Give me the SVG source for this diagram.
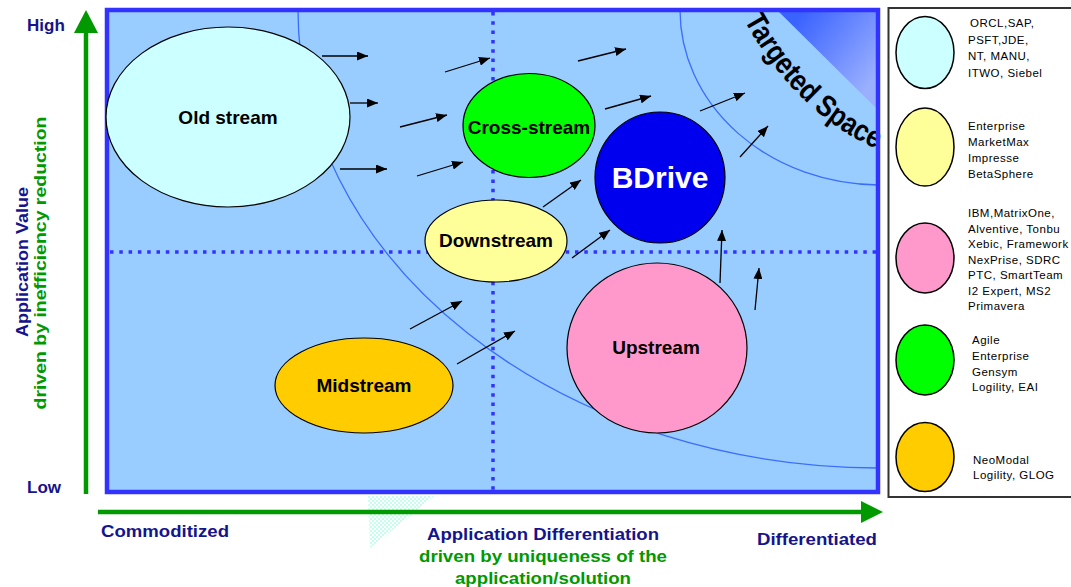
<svg xmlns="http://www.w3.org/2000/svg" width="1071" height="587" viewBox="0 0 1071 587">
<defs>
<style>
.lbl{font-family:"Liberation Sans",Arial,sans-serif;font-weight:bold;font-size:19px;fill:#000;text-anchor:middle}
.ax{font-family:"Liberation Sans",Arial,sans-serif;font-weight:bold;font-size:17px;fill:#14148c}
.axg{font-family:"Liberation Sans",Arial,sans-serif;font-weight:bold;font-size:17px;fill:#009900}
.leg{font-family:"Liberation Sans",Arial,sans-serif;font-size:11.5px;fill:#000;letter-spacing:0.5px}
.node{stroke:#000;stroke-width:1.2}
.arc{fill:none;stroke:#3a6cff;stroke-width:1.3}
.dot{fill:none;stroke:#3333ff;stroke-width:3.5;stroke-dasharray:3.5 5.8}
.arr{fill:none;stroke:#000;stroke-width:1.3;marker-end:url(#ah)}
.lege{stroke:#000;stroke-width:1.5}
</style>
<marker id="ah" markerUnits="userSpaceOnUse" markerWidth="11" markerHeight="9" refX="11" refY="4.5" orient="auto"><path d="M0,0 L11,4.5 L0,9 z" fill="#000"/></marker>
<linearGradient id="tg" gradientUnits="userSpaceOnUse" x1="800" y1="15" x2="878" y2="75"><stop offset="0" stop-color="#3a62ff"/><stop offset="1" stop-color="#9ab0ff"/></linearGradient>
<pattern id="hatch" width="4" height="4" patternUnits="userSpaceOnUse"><rect width="4" height="4" fill="#ffffff"/><rect width="2" height="2" fill="#c4ffec"/><rect x="2" y="2" width="2" height="2" fill="#c4ffec"/></pattern>
<path id="tsp" d="M744,20 Q797,115 879,150"/>
</defs>

<rect width="1071" height="587" fill="#ffffff"/>

<!-- hatched triangle below chart -->
<polygon points="368,496 434,496 370,548" fill="url(#hatch)"/>

<!-- main chart frame -->
<g id="chart">
<rect x="107" y="10" width="771" height="482" fill="#99ccff"/>
<polygon points="777,10 878,10 878,110" fill="url(#tg)"/>
<path class="arc" d="M298,10 A582,458 0 0 0 878,468"/>
<path class="arc" d="M680,10 A200,175 0 0 0 878,185"/>
<line class="dot" x1="493" y1="12" x2="493" y2="492"/>
<line class="dot" x1="110" y1="252" x2="876" y2="252"/>
<text font-family="Liberation Sans, Arial, sans-serif" font-size="30" font-weight="bold" fill="#000"><textPath href="#tsp" startOffset="0" textLength="188" lengthAdjust="spacingAndGlyphs">Targeted Space</textPath></text>
<rect x="107" y="10" width="771" height="482" fill="none" stroke="#3333ff" stroke-width="4.5"/>
</g>

<!-- connectors -->
<g id="connectors">
<line class="arr" x1="322" y1="56" x2="368" y2="56"/>
<line class="arr" x1="350" y1="103" x2="378" y2="103"/>
<line class="arr" x1="340" y1="169" x2="387" y2="169"/>
<line class="arr" x1="445" y1="72" x2="490" y2="58"/>
<line class="arr" x1="400" y1="127" x2="447" y2="115"/>
<line class="arr" x1="417" y1="176" x2="463" y2="162"/>
<line class="arr" x1="578" y1="61" x2="626" y2="49"/>
<line class="arr" x1="605" y1="109" x2="651" y2="96"/>
<line class="arr" x1="700" y1="111" x2="745" y2="93"/>
<line class="arr" x1="740" y1="157" x2="768" y2="126"/>
<line class="arr" x1="543" y1="207" x2="581" y2="180"/>
<line class="arr" x1="572" y1="258" x2="610" y2="230"/>
<line class="arr" x1="720" y1="283" x2="722" y2="230"/>
<line class="arr" x1="755" y1="310" x2="759" y2="268"/>
<line class="arr" x1="410" y1="329" x2="462" y2="301"/>
<line class="arr" x1="457" y1="364" x2="515" y2="331"/>
</g>

<g id="node-oldstream">
<ellipse class="node" cx="228" cy="117" rx="122" ry="90" fill="#ccffff"/>
<text class="lbl" x="228" y="124">Old stream</text>
</g>
<g id="node-crossstream">
<ellipse class="node" cx="529" cy="125.5" rx="66" ry="52" fill="#00ff00"/>
<text class="lbl" x="529" y="134">Cross-stream</text>
</g>
<g id="node-bdrive">
<ellipse class="node" cx="660" cy="177.5" rx="65" ry="65.5" fill="#0000ee"/>
<text class="lbl" x="660" y="188" style="font-size:30px;fill:#fff">BDrive</text>
</g>
<g id="node-downstream">
<ellipse class="node" cx="496" cy="241" rx="71" ry="41" fill="#ffff99"/>
<text class="lbl" x="496" y="247">Downstream</text>
</g>
<g id="node-midstream">
<ellipse class="node" cx="364" cy="385.5" rx="89" ry="47.5" fill="#ffcc00"/>
<text class="lbl" x="364" y="392">Midstream</text>
</g>
<g id="node-upstream">
<ellipse class="node" cx="657" cy="348" rx="90" ry="85" fill="#ff99cc"/>
<text class="lbl" x="656" y="354">Upstream</text>
</g>

<!-- axes -->
<g id="axis-y">
<line x1="86" y1="494" x2="86" y2="28" stroke="#009900" stroke-width="4.5"/>
<polygon points="74,33 98,33 86,10" fill="#009900"/>
<text class="ax" x="27" y="31">High</text>
<text class="ax" x="27" y="493">Low</text>
<text class="ax" transform="translate(28,262) rotate(-90)" text-anchor="middle" textLength="150" lengthAdjust="spacingAndGlyphs">Application Value</text>
<text class="axg" transform="translate(46,263) rotate(-90)" text-anchor="middle" textLength="293" lengthAdjust="spacingAndGlyphs">driven by inefficiency reduction</text>
</g>
<g id="axis-x">
<line x1="98" y1="512" x2="865" y2="512" stroke="#009900" stroke-width="4.5"/>
<polygon points="861,501 861,523 883,512" fill="#009900"/>
<text class="ax" x="101" y="537" textLength="128" lengthAdjust="spacingAndGlyphs">Commoditized</text>
<text class="ax" x="543" y="540" text-anchor="middle" textLength="232" lengthAdjust="spacingAndGlyphs">Application Differentiation</text>
<text class="axg" x="543" y="562" text-anchor="middle" textLength="248" lengthAdjust="spacingAndGlyphs">driven by uniqueness of the</text>
<text class="axg" x="543" y="584" text-anchor="middle" textLength="176" lengthAdjust="spacingAndGlyphs">application/solution</text>
<text class="ax" x="757" y="545" textLength="120" lengthAdjust="spacingAndGlyphs">Differentiated</text>
</g>

<!-- legend -->
<g id="legend">
<rect x="888.5" y="8" width="200" height="489" fill="#ffffff" stroke="#333" stroke-width="2"/>
<g id="legend-old">
<ellipse class="lege" cx="925" cy="52.5" rx="29" ry="36" fill="#ccffff"/>
<text class="leg" x="970" y="27">ORCL,SAP,</text>
<text class="leg" x="968" y="43.5">PSFT,JDE,</text>
<text class="leg" x="968" y="60">NT, MANU,</text>
<text class="leg" x="968" y="76.5">ITWO, Siebel</text>
</g>
<g id="legend-down">
<ellipse class="lege" cx="925" cy="147" rx="29" ry="39" fill="#ffff99"/>
<text class="leg" x="968" y="130">Enterprise</text>
<text class="leg" x="968" y="146">MarketMax</text>
<text class="leg" x="968" y="162">Impresse</text>
<text class="leg" x="968" y="178">BetaSphere</text>
</g>
<g id="legend-up">
<ellipse class="lege" cx="925" cy="258" rx="29" ry="35" fill="#ff99cc"/>
<text class="leg" x="968" y="217">IBM,MatrixOne,</text>
<text class="leg" x="968" y="232.5">Alventive, Tonbu</text>
<text class="leg" x="968" y="248">Xebic, Framework</text>
<text class="leg" x="968" y="263.5">NexPrise, SDRC</text>
<text class="leg" x="968" y="279">PTC, SmartTeam</text>
<text class="leg" x="968" y="294.5">I2 Expert, MS2</text>
<text class="leg" x="968" y="310">Primavera</text>
</g>
<g id="legend-cross">
<ellipse class="lege" cx="925" cy="360" rx="29" ry="35" fill="#00ff00"/>
<text class="leg" x="972" y="344">Agile</text>
<text class="leg" x="972" y="360">Enterprise</text>
<text class="leg" x="972" y="376">Gensym</text>
<text class="leg" x="972" y="391">Logility, EAI</text>
</g>
<g id="legend-mid">
<ellipse class="lege" cx="925" cy="457" rx="29" ry="34.5" fill="#ffcc00"/>
<text class="leg" x="973" y="464">NeoModal</text>
<text class="leg" x="973" y="479">Logility, GLOG</text>
</g>
</g>
</svg>
